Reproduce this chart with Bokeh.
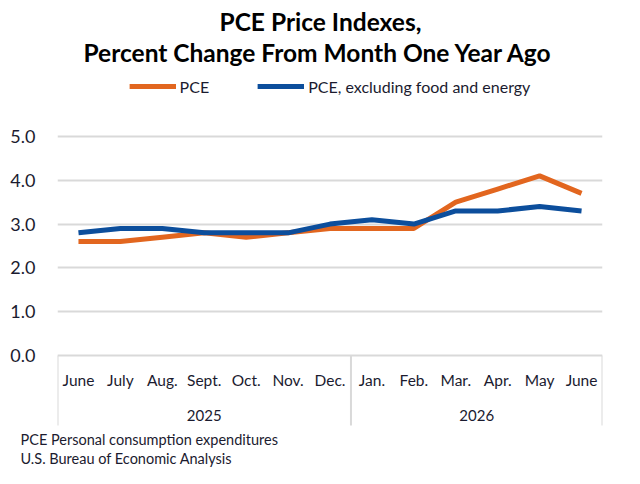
from bokeh.plotting import figure
from bokeh.models import (Range1d, FixedTicker, Title, Legend, LegendItem,
                          ColumnDataSource, PrintfTickFormatter)
from bokeh.embed import file_html
from bokeh.resources import INLINE
from bokeh.core.properties import value

months = ["June", "July", "Aug.", "Sept.", "Oct.", "Nov.", "Dec.",
          "Jan.", "Feb.", "Mar.", "Apr.", "May", "June"]
years = ["2025", "2026"]
year_counts = [7, 6]
pce = [2.6, 2.6, 2.7, 2.8, 2.7, 2.8, 2.9, 2.9, 2.9, 3.5, 3.8, 4.1, 3.7]
core = [2.8, 2.9, 2.9, 2.8, 2.8, 2.8, 3.0, 3.1, 3.0, 3.3, 3.3, 3.4, 3.3]
y_ticks = [0, 1, 2, 3, 4, 5]
notes = ["PCE Personal consumption expenditures", "U.S. Bureau of Economic Analysis"]

FONT = "Lato"
TXT = "#1b1b2f"
ORANGE = "#E2661F"
BLUE = "#0C4E9C"
GRID = "#D9D9D9"

n = len(months)
xs = [i + 0.5 for i in range(n)]

p = figure(width=624, height=468, output_backend="svg", toolbar_location=None,
           x_range=Range1d(0, n), y_range=Range1d(-1.667, 6.598),
           min_border_left=57, min_border_right=22, min_border_bottom=40,
           min_border_top=66, outline_line_color=None)

p.title.text = "PCE Price Indexes,"
p.title.align = "left"
p.title.offset = 162
p.title.text_font = FONT
p.title.text_font_size = "24.5px"
p.title.text_line_height = 1.0
p.title.text_font_style = "bold"
p.title.text_color = "#000000"
p.title.standoff = 0
p.add_layout(Title(text="Percent Change From Month One Year Ago", align="left",
                   offset=26, text_font=FONT, text_line_height=1.1,
                   text_font_size="24.5px", text_font_style="bold",
                   text_color="#000000", standoff=0), "above")

for t in notes:
    p.add_layout(Title(text=t, align="left", offset=-37, text_font=FONT,
                       text_font_size="14.5px", text_font_style="normal",
                       text_color=TXT, standoff=0), "below")

p.xaxis.visible = False
p.xgrid.visible = False
p.yaxis.ticker = FixedTicker(ticks=y_ticks)
p.yaxis.formatter = PrintfTickFormatter(format="%.1f")
p.yaxis.axis_line_color = None
p.yaxis.major_tick_line_color = None
p.yaxis.minor_tick_line_color = None
p.yaxis.major_label_standoff = 16
p.yaxis.major_label_text_font = FONT
p.yaxis.major_label_text_font_size = "18px"
p.yaxis.major_label_text_color = TXT
p.ygrid.ticker = FixedTicker(ticks=y_ticks)
p.ygrid.grid_line_color = GRID
p.ygrid.grid_line_width = 2

# category axis box: separators
sep_x = [0]
acc = 0
for c in year_counts:
    acc += c
    sep_x.append(acc)
p.segment(x0=sep_x, y0=[0] * len(sep_x), x1=sep_x, y1=[-1.6] * len(sep_x),
          line_color=GRID, line_width=2)

src = ColumnDataSource(dict(x=xs, m=months, y=[-0.57] * n))
p.text(x="x", y="y", text="m", source=src, text_align="center",
       text_baseline="middle", text_font=value(FONT), text_font_size="15.5px",
       text_color=TXT)
yx = []
s = 0
for c in year_counts:
    yx.append(s + c / 2)
    s += c
p.text(x=yx, y=[-1.36] * len(years), text=years, text_align="center",
       text_baseline="middle", text_font=value(FONT), text_font_size="15px",
       text_color=TXT)

r1 = p.line(xs, pce, line_color=ORANGE, line_width=5)
r2 = p.line(xs, core, line_color=BLUE, line_width=5)

legend = Legend(items=[LegendItem(label="PCE", renderers=[r1]),
                       LegendItem(label="PCE, excluding food and energy", renderers=[r2])],
                orientation="horizontal", location="top_center",
                glyph_width=47, glyph_height=20, label_standoff=4, spacing=48,
                padding=0, margin=10, border_line_color=None,
                background_fill_alpha=0, label_text_font=FONT,
                label_text_font_size="16px", label_text_color=TXT)
p.add_layout(legend, "center")

open("out.html", "w").write(file_html(p, INLINE))
